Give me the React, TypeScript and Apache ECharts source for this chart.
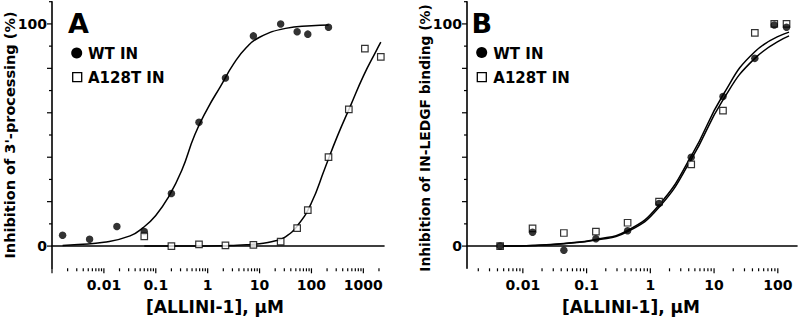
import React, { useEffect, useRef } from "react";
import * as echarts from "echarts";

// ---------- Panel A: 3'-processing ----------
const concA_WT = [0.0016, 0.0053, 0.0178, 0.06, 0.2, 0.68, 2.2, 7.6, 25.5, 53, 85, 213];
const inhA_WT = [4.9, 3.1, 8.8, 6.6, 23.7, 55.7, 75.7, 94.6, 100, 96.5, 95.4, 98.5];
const concA_A128T = [0.06, 0.2, 0.68, 2.2, 7.6, 25.5, 53, 85, 213, 525, 1070, 2170];
const inhA_A128T = [4.4, 0, 0.8, 0.3, 0.5, 2, 8.1, 16.2, 40, 61.5, 88.9, 85.2];
// fitted curves at roughly quarter-decade steps
const fitA_WT_x = [0.0016, 0.0032, 0.01, 0.032, 0.056, 0.1, 0.178, 0.316, 0.562, 1, 1.78, 3.16, 5.62, 10, 31.6, 100, 214];
const fitA_WT_y = [0.3, 0.7, 1.7, 4.6, 8.2, 13.8, 22.3, 34, 50, 62, 72, 82, 89.5, 94, 98, 99.2, 99.5];
const fitA_A128T_x = [0.06, 0.178, 0.562, 1.78, 3.16, 5.62, 10, 17.8, 31.6, 56.2, 100, 178, 316, 562, 1000, 1780, 2170];
const fitA_A128T_y = [0, 0, 0, 0.1, 0.3, 0.6, 1.1, 2.1, 4.2, 9.8, 19.5, 34.5, 49.5, 63, 76.5, 88, 91.8];

// ---------- Panel B: IN-LEDGF binding ----------
const concB = [0.0044, 0.0142, 0.044, 0.14, 0.44, 1.37, 4.38, 13.8, 43.6, 88, 137];
const inhB_WT = [0, 6.2, -1.9, 3.3, 6.9, 19.2, 40, 67.3, 84.5, 99.5, 98.5];
const inhB_A128T = [0, 8, 5.9, 6.5, 10.5, 20, 36.8, 61, 96, 100, 100];
const fitB_x = [0.0044, 0.0142, 0.044, 0.14, 0.44, 1.37, 4.38, 13.8, 43.6, 150];
const fitB_WT_y = [0, 0.3, 1.2, 3, 7, 18.5, 40.5, 68, 87.5, 96.3];
const fitB_A128T_y = [0, 0.3, 1.1, 2.7, 6.5, 17.5, 39, 65.8, 84.5, 94.6];

// ---------- axes ----------
const xRangeA = [0.001, 2500];
const xRangeB = [0.00133, 200];
const yRange = [-10, 110];
const xLabels = ["0.01", "0.1", "1", "10", "100", "1000"];
const decadesA = [0.001, 0.01, 0.1, 1, 10, 100, 1000];
const decadesB = [0.001, 0.01, 0.1, 1, 10, 100];
const minorMult = [2, 3, 4, 5, 6, 7, 8, 9];
const yTickValues = [0, 10, 20, 30, 40, 50, 60, 70, 80, 90, 100, 110];
const yMajor = [0, 20, 40, 60, 80, 100];
const yLabels = ["0", "100"];

const FONT = "'DejaVu Sans', sans-serif";

function pairs(xs: number[], ys: number[]) {
  return xs.map((x, i) => [x, ys[i]]);
}

function xTicks(decades: number[], range: number[]) {
  const out: number[][] = [];
  decades.forEach((d) => {
    if (d >= range[0] && d <= range[1]) out.push([d, 5]);
    minorMult.forEach((m) => {
      const v = d * m;
      if (v > range[0] && v < range[1]) out.push([v, 3]);
    });
  });
  return out;
}

function yTicks(xMin: number) {
  return yTickValues.map((v) => [xMin, v, yMajor.indexOf(v) >= 0 ? 5 : 3]);
}

function xLabelFmt(v: number) {
  for (const l of xLabels) {
    if (Math.abs(Math.log10(v) - Math.log10(parseFloat(l))) < 1e-6) return l;
  }
  return "";
}

export default function App() {
  const ref = useRef<HTMLDivElement>(null);
  useEffect(() => {
    if (!ref.current) return;
    const chart = echarts.init(ref.current, undefined, { renderer: "svg" });
    const axisLine = { show: true, lineStyle: { color: "#000", width: 1.6 } };
    const xAxisCommon = (range: number[], gi: number) => ({
      type: "log",
      logBase: 10,
      gridIndex: gi,
      min: range[0],
      max: range[1],
      axisLine,
      axisTick: { show: false },
      splitLine: { show: false },
      axisLabel: {
        formatter: xLabelFmt,
        margin: 10,
        color: "#000",
        fontFamily: FONT,
        fontWeight: "bold",
        fontSize: 14,
        showMinLabel: true,
        showMaxLabel: true,
        hideOverlap: false,
      },
    });
    const yAxisCommon = (gi: number) => ({
      type: "value",
      gridIndex: gi,
      min: yRange[0],
      max: yRange[1],
      interval: 10,
      axisLine,
      axisTick: { show: false },
      splitLine: { show: false },
      axisLabel: {
        formatter: (v: number) => (yLabels.indexOf(String(v)) >= 0 ? String(v) : ""),
        margin: 5,
        color: "#000",
        fontFamily: FONT,
        fontWeight: "bold",
        fontSize: 14,
      },
    });
    const tickSeriesX = (gi: number, data: number[][], yMin: number) => ({
      type: "custom",
      xAxisIndex: gi,
      yAxisIndex: gi,
      silent: true,
      clip: false,
      data,
      renderItem: (params: any, api: any) => {
        const p = api.coord([api.value(0), yMin]);
        const len = api.value(1);
        return {
          type: "line",
          shape: { x1: p[0], y1: p[1], x2: p[0], y2: p[1] + len },
          style: { stroke: "#000", lineWidth: 1.2 },
        };
      },
    });
    const tickSeriesY = (gi: number, data: number[][]) => ({
      type: "custom",
      xAxisIndex: gi,
      yAxisIndex: gi,
      silent: true,
      clip: false,
      data,
      renderItem: (params: any, api: any) => {
        const p = api.coord([api.value(0), api.value(1)]);
        const len = api.value(2);
        return {
          type: "line",
          shape: { x1: p[0], y1: p[1], x2: p[0] - len, y2: p[1] },
          style: { stroke: "#000", lineWidth: 1.2 },
        };
      },
    });
    const curve = (gi: number, data: number[][]) => ({
      type: "line",
      xAxisIndex: gi,
      yAxisIndex: gi,
      data,
      smooth: 0.5,
      showSymbol: false,
      symbol: "none",
      silent: true,
      lineStyle: { color: "#000", width: 1.5 },
      z: 2,
    });
    const dots = (gi: number, data: number[][], z: number) => ({
      type: "scatter",
      xAxisIndex: gi,
      yAxisIndex: gi,
      data,
      symbol: "circle",
      symbolSize: 7.5,
      silent: true,
      itemStyle: { color: "#000" },
      z,
    });
    const squares = (gi: number, data: number[][], z: number) => ({
      type: "scatter",
      xAxisIndex: gi,
      yAxisIndex: gi,
      data,
      symbol: "rect",
      symbolSize: 6.5,
      silent: true,
      itemStyle: { color: "#fff", borderColor: "#000", borderWidth: 1.2 },
      z,
    });
    const txt = (text: string, x: number, y: number, size: number, extra: any = {}) => ({
      type: "text",
      x,
      y,
      silent: true,
      ...extra,
      style: {
        text,
        fill: "#000",
        fontFamily: FONT,
        fontWeight: "bold",
        fontSize: size,
        align: extra.align || "left",
        verticalAlign: "middle",
      },
    });

    chart.setOption({
      animation: false,
      textStyle: { fontFamily: FONT },
      grid: [
        { left: 52, top: 1.7, width: 332, height: 266.6, containLabel: false },
        { left: 467, top: 1.7, width: 339, height: 266.6, containLabel: false },
      ],
      xAxis: [xAxisCommon(xRangeA, 0), xAxisCommon(xRangeB, 1)],
      yAxis: [yAxisCommon(0), yAxisCommon(1)],
      series: [
        tickSeriesX(0, xTicks(decadesA, xRangeA), yRange[0]),
        tickSeriesY(0, yTicks(xRangeA[0])),
        tickSeriesX(1, xTicks(decadesB, xRangeB), yRange[0]),
        tickSeriesY(1, yTicks(xRangeB[0])),
        curve(0, pairs(fitA_WT_x, fitA_WT_y)),
        curve(0, pairs(fitA_A128T_x, fitA_A128T_y)),
        dots(0, pairs(concA_WT, inhA_WT), 3),
        squares(0, pairs(concA_A128T, inhA_A128T), 4),
        curve(1, pairs(fitB_x, fitB_WT_y)),
        curve(1, pairs(fitB_x, fitB_A128T_y)),
        squares(1, pairs(concB, inhB_A128T), 3),
        dots(1, pairs(concB, inhB_WT), 4),
      ],
      graphic: [
        txt("A", 68, 23, 27),
        { type: "circle", shape: { cx: 76.7, cy: 53, r: 5.5 }, style: { fill: "#000" }, silent: true },
        txt("WT IN", 88, 53.5, 15),
        { type: "rect", shape: { x: 72.7, y: 72.7, width: 9, height: 9 }, style: { fill: "#fff", stroke: "#000", lineWidth: 1.3 }, silent: true },
        txt("A128T IN", 88, 77.5, 15),
        txt("B", 471.5, 23, 27),
        { type: "circle", shape: { cx: 481.7, cy: 52.5, r: 5.5 }, style: { fill: "#000" }, silent: true },
        txt("WT IN", 493.3, 53.5, 15),
        { type: "rect", shape: { x: 477.3, y: 72.7, width: 9, height: 9 }, style: { fill: "#fff", stroke: "#000", lineWidth: 1.3 }, silent: true },
        txt("A128T IN", 493.3, 77.5, 15),
        txt("Inhibition of 3'-processing (%)", 10, 135, 14.5, { rotation: Math.PI / 2, align: "center" }),
        txt("Inhibition of IN-LEDGF binding (%)", 425, 138, 13.8, { rotation: Math.PI / 2, align: "center" }),
        txt("[ALLINI-1], \u03bcM", 215, 307, 17, { align: "center" }),
        txt("[ALLINI-1], \u03bcM", 631, 307, 17, { align: "center" }),
      ],
    });
    return () => chart.dispose();
  }, []);
  return (
    <div
      ref={ref}
      style={{ position: "fixed", left: 0, top: 0, width: 800, height: 319, background: "#fff" }}
    />
  );
}
